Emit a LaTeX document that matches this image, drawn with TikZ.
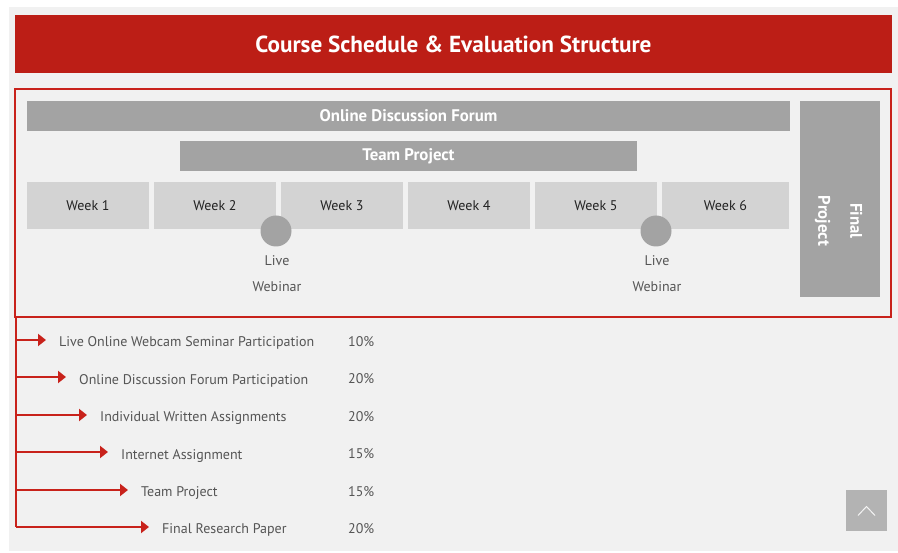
\documentclass[tikz,border=0pt]{standalone}
\usepackage{fontspec}
\setmainfont{PT Sans}
\usetikzlibrary{arrows.meta}
\definecolor{bgg}{HTML}{F1F1F1}
\definecolor{redt}{HTML}{BC1E16}
\definecolor{redl}{HTML}{C8221B}
\definecolor{barg}{HTML}{A3A3A3}
\definecolor{weekg}{HTML}{D3D3D3}
\definecolor{txtg}{HTML}{555555}
\definecolor{txtd}{HTML}{222222}
\definecolor{btng}{HTML}{B3B3B3}
\tikzset{
  bar/.style={fill=barg, draw=none, inner sep=0pt, text=white, font=\fontsize{16.8}{20}\selectfont\bfseries},
  weekbox/.style={fill=weekg, draw=none, inner sep=0pt, text=txtd, font=\fontsize{14}{17}\selectfont},
  webdot/.style={circle, fill=barg, draw=none, minimum size=31pt, inner sep=0pt},
  lbl/.style={inner sep=0pt, text=txtg, font=\fontsize{14}{17}\selectfont},
  itemtxt/.style={inner sep=0pt, anchor=west, text=txtg, font=\fontsize{14}{17}\selectfont},
  arr/.style={draw=redl, line width=2pt, -{Triangle[length=8pt,width=12pt]}},
}
\begin{document}
\begin{tikzpicture}[x=1pt,y=-1pt]
\useasboundingbox (0,0) rectangle (898,553);
\fill[white] (0,0) rectangle (898,553);
\fill[bgg] (9,7) rectangle (898,551);
% title
\node[fill=redt, inner sep=0pt, minimum width=877pt, minimum height=58pt, text=white,
  font=\fontsize{23.2}{27}\selectfont\bfseries] (title) at (453.5,44) {Course Schedule \& Evaluation Structure};
% frame
\node[draw=redl, line width=2pt, minimum width=876pt, minimum height=228pt, inner sep=0pt] (frame) at (453,203) {};
% bars
\node[bar, minimum width=763pt, minimum height=30pt] (odf) at (408.5,116) {Online Discussion Forum};
\node[bar, minimum width=457pt, minimum height=30pt] (tp) at (408.5,156) {Team Project};
% weeks
\node[weekbox, minimum width=122pt, minimum height=47pt] (w1) at (88,205.5) {Week 1};
\node[weekbox, minimum width=122pt, minimum height=47pt] (w2) at (215,205.5) {Week 2};
\node[weekbox, minimum width=122pt, minimum height=47pt] (w3) at (342,205.5) {Week 3};
\node[weekbox, minimum width=122pt, minimum height=47pt] (w4) at (469,205.5) {Week 4};
\node[weekbox, minimum width=122pt, minimum height=47pt] (w5) at (596,205.5) {Week 5};
\node[weekbox, minimum width=127pt, minimum height=47pt] (w6) at (725.5,205.5) {Week 6};
% webinars
\node[webdot] (c1) at (276,231) {};
\node[webdot] (c2) at (656,231) {};
\node[lbl] (l1a) at (277,260.5) {Live};
\node[lbl] (l1b) at (277,286.5) {Webinar};
\node[lbl] (l2a) at (657,260.5) {Live};
\node[lbl] (l2b) at (657,286.5) {Webinar};
% final project
\node[fill=barg, minimum width=80pt, minimum height=196pt, inner sep=0pt] (fp) at (840,199) {};
\node[rotate=-90, align=center, text=white, inner sep=0pt, font=\fontsize{16.8}{32}\selectfont\bfseries] (fpt) at (838.5,221) {Final\\Project};
% evaluation list
\coordinate (top) at (16,317);
\coordinate (s1) at (16,340);
\coordinate (s2) at (16,377);
\coordinate (s3) at (16,415);
\coordinate (s4) at (16,452);
\coordinate (s5) at (16,490);
\coordinate (s6) at (16,527);
\draw[redl, line width=2pt] (top) -- (s6);
\node[itemtxt] (t1) at (59,343) {Live Online Webcam Seminar Participation};
\node[itemtxt] (t2) at (79,381) {Online Discussion Forum Participation};
\node[itemtxt] (t3) at (100,418) {Individual Written Assignments};
\node[itemtxt] (t4) at (121,456) {Internet Assignment};
\node[itemtxt] (t5) at (141,493) {Team Project};
\node[itemtxt] (t6) at (162,530) {Final Research Paper};
\node[itemtxt] (p1) at (348,341.5) {10\%};
\node[itemtxt] (p2) at (348,378.5) {20\%};
\node[itemtxt] (p3) at (348,416.5) {20\%};
\node[itemtxt] (p4) at (348,453.5) {15\%};
\node[itemtxt] (p5) at (348,491.5) {15\%};
\node[itemtxt] (p6) at (348,528.5) {20\%};
\draw[arr] (s1) -- (s1 -| {46,0});
\draw[arr] (s2) -- (s2 -| {66,0});
\draw[arr] (s3) -- (s3 -| {87,0});
\draw[arr] (s4) -- (s4 -| {108,0});
\draw[arr] (s5) -- (s5 -| {128,0});
\draw[arr] (s6) -- (s6 -| {149,0});
% scroll-up button
\node[fill=btng, minimum size=41pt, inner sep=0pt] (btn) at (866.5,510.5) {};
\draw[white!85!btng, line width=1pt] ([xshift=-8.5pt,yshift=-5pt]btn.center) -- ([yshift=4pt]btn.center) -- ([xshift=8.5pt,yshift=-5pt]btn.center);
\end{tikzpicture}
\end{document}
